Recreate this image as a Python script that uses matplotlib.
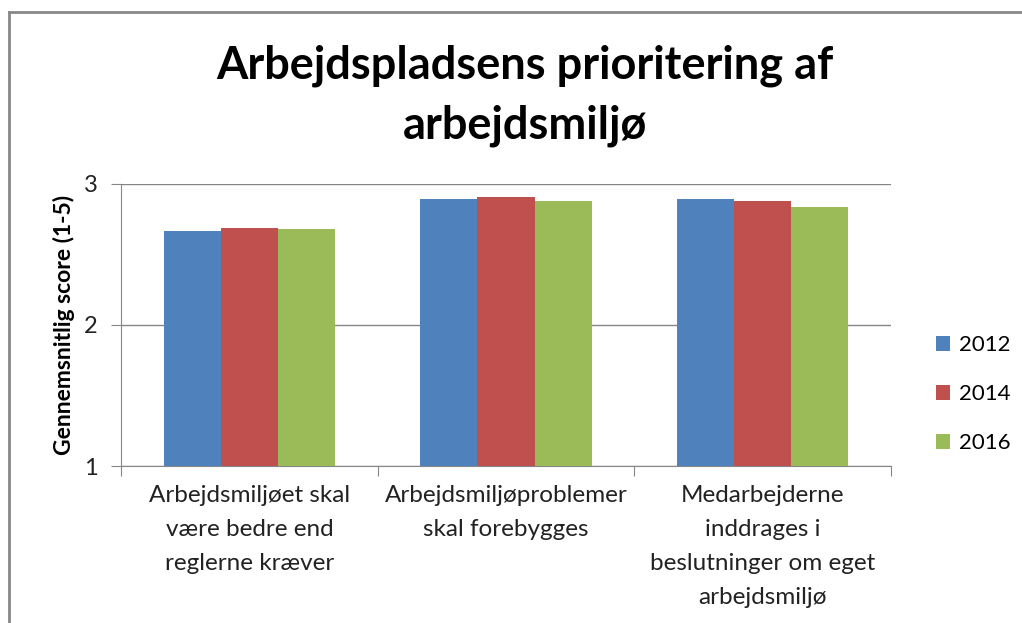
import matplotlib.pyplot as plt
import numpy as np
from matplotlib.lines import Line2D

plt.rcParams['font.family'] = ['Lato', 'DejaVu Sans']

categories = ["Arbejdsmiljøet skal\nvære bedre end\nreglerne kræver",
              "Arbejdsmiljøproblemer\nskal forebygges",
              "Medarbejderne\ninddrages i\nbeslutninger om eget\narbejdsmiljø"]
years = ["2012", "2014", "2016"]
v2012 = [2.67, 2.89, 2.89]
v2014 = [2.69, 2.91, 2.88]
v2016 = [2.68, 2.88, 2.84]
colors = ["#4F81BD", "#C0504D", "#9BBB59"]

fig = plt.figure(figsize=(10.22, 6.23), dpi=100)
ax = fig.add_axes([0.1184, 0.252, 0.7534, 0.4527])

x = np.arange(len(categories))
w = 1 / 4.5
for i, (vals, lab) in enumerate(zip([v2012, v2014, v2016], years)):
    ax.bar(x + (i - 1) * w, np.array(vals) - 1, bottom=1, width=w,
           color=colors[i], label=lab, zorder=3)

ax.set_xlim(-0.5, 2.5)
ax.set_ylim(1, 3)
ax.set_yticks([1, 2, 3])
ax.yaxis.grid(True, color="#868686", linewidth=1, zorder=0)
ax.set_xticks([-0.5, 0.5, 1.5, 2.5])
ax.set_xticklabels([])
ax.set_xticks(x, minor=True)
ax.set_xticklabels(categories, minor=True, fontsize=17.5, color="#222222",
                   linespacing=1.75)
ax.tick_params(axis='x', which='minor', length=0, pad=14)
ax.tick_params(axis='x', which='major', length=7, color="#868686")
ax.tick_params(axis='y', length=7, color="#868686", labelsize=17, pad=10,
               labelcolor="#222222")
for s in ["top", "right"]:
    ax.spines[s].set_visible(False)
for s in ["left", "bottom"]:
    ax.spines[s].set_color("#868686")

ax.set_ylabel("Gennemsnitlig score (1-5)", fontsize=16.5, fontweight="bold",
              labelpad=6)

fig.text(0.514, 0.846, "Arbejdspladsens prioritering af\narbejdsmiljø",
         ha="center", va="center", fontsize=32.5, fontweight="bold",
         linespacing=1.5)

leg = ax.legend(loc="center left", bbox_to_anchor=(1.058, 0.254), frameon=False,
                fontsize=16, handlelength=0.65, handleheight=0.65,
                handletextpad=0.4, labelspacing=1.3, borderaxespad=0,
                borderpad=0)

# chart frame
fig.add_artist(Line2D([0.009, 0.009], [0, 0.981], color="#888888", linewidth=2))
fig.add_artist(Line2D([0.009, 1.0], [0.981, 0.981], color="#888888", linewidth=2))

fig.savefig("out.png", dpi=100)
